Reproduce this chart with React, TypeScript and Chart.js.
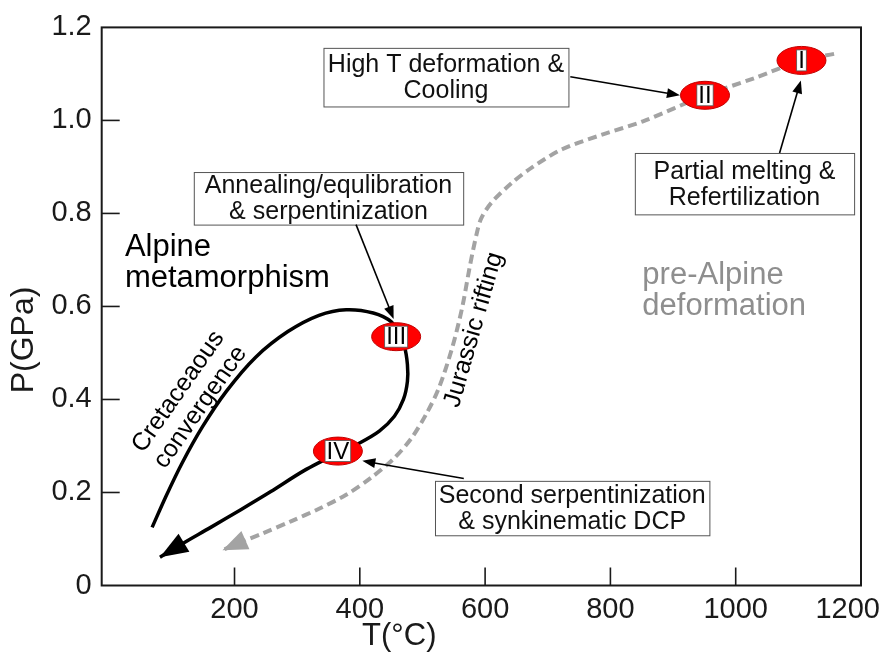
import React, { useEffect, useRef } from 'react';
import { Chart, registerables } from 'chart.js';

Chart.register(...registerables);

const FONT = '"Liberation Sans", Arial, Helvetica, sans-serif';

// Axis ticks
const T_TICKS = [200, 400, 600, 800, 1000, 1200];
const P_TICKS = [0, 0.2, 0.4, 0.6, 0.8, 1.0, 1.2];

// Alpine P–T loop (T in °C, P in GPa): Cretaceous convergence, III, IV, exhumation
const alpineT = [68.5, 91, 116.6, 148.7, 187.2, 233.8, 285.1, 334.9, 378.2, 421.5, 450.4, 461.6, 471.2, 476, 476, 469.6, 455.2, 431.1, 399, 365.3, 311, 258, 210, 162, 118, 81];
const alpineP = [0.125, 0.193, 0.264, 0.341, 0.418, 0.491, 0.546, 0.581, 0.593, 0.586, 0.567, 0.542, 0.514, 0.475, 0.439, 0.4, 0.364, 0.332, 0.306, 0.285, 0.247, 0.202, 0.163, 0.125, 0.091, 0.061];

// pre-Alpine / Jurassic rifting path
const riftT = [1157, 1105, 1028, 951, 852, 788, 723, 675, 643, 610, 594, 587, 576, 563, 547, 526, 506.6, 482.5, 453.6, 418.3, 378.2, 334.9, 290, 245, 209.7, 180.8];
const riftP = [1.143, 1.129, 1.09, 1.054, 0.998, 0.97, 0.938, 0.899, 0.866, 0.823, 0.79, 0.759, 0.689, 0.595, 0.509, 0.424, 0.37, 0.317, 0.272, 0.232, 0.195, 0.165, 0.138, 0.112, 0.093, 0.076];

// Deformation stages
const stageLabels = ['I', 'II', 'III', 'IV'];
const stageT = [1105, 951, 458, 365];
const stageP = [1.129, 1.054, 0.535, 0.289];

// Annotation boxes (text, extent in T/P) and their pointers
const noteText = [
  ['High T deformation &', 'Cooling'],
  ['Partial melting &', 'Refertilization'],
  ['Annealing/equlibration', '& serpentinization'],
  ['Second serpentinization', '& synkinematic DCP'],
];
const noteT0 = [342, 839, 135, 520];
const noteT1 = [733, 1189, 565, 958];
const noteP0 = [1.156, 0.93, 0.889, 0.225];
const noteP1 = [1.03, 0.798, 0.776, 0.108];
const arrowFromT = [736, 1070, 394, 566];
const arrowFromP = [1.094, 0.93, 0.776, 0.23];
const arrowToT = [911, 1104, 454, 404];
const arrowToP = [1.054, 1.086, 0.573, 0.268];

function arrowHead(ctx: CanvasRenderingContext2D, tx: number, ty: number, fx: number, fy: number, len: number, halfW: number, color: string) {
  const dx = tx - fx;
  const dy = ty - fy;
  const d = Math.hypot(dx, dy) || 1;
  const ux = dx / d;
  const uy = dy / d;
  const bx = tx - ux * len;
  const by = ty - uy * len;
  ctx.beginPath();
  ctx.moveTo(tx, ty);
  ctx.lineTo(bx - uy * halfW, by + ux * halfW);
  ctx.lineTo(bx + uy * halfW, by - ux * halfW);
  ctx.closePath();
  ctx.fillStyle = color;
  ctx.fill();
}

const overlay = {
  id: 'overlay',
  afterDatasetsDraw(chart: any) {
    const { ctx, scales } = chart;
    const X = (t: number) => scales.x.getPixelForValue(t);
    const Y = (p: number) => scales.y.getPixelForValue(p);
    ctx.save();

    // path arrowheads
    const na = alpineT.length;
    arrowHead(ctx, X(alpineT[na - 1]), Y(alpineP[na - 1]), X(alpineT[na - 2]), Y(alpineP[na - 2]), 28, 10.5, '#000');
    const nr = riftT.length;
    arrowHead(ctx, X(riftT[nr - 1]), Y(riftP[nr - 1]), X(riftT[nr - 2]), Y(riftP[nr - 2]), 25, 10, '#a3a3a3');

    // stage markers
    for (let i = 0; i < stageLabels.length; i++) {
      const cx = X(stageT[i]);
      const cy = Y(stageP[i]);
      ctx.beginPath();
      ctx.ellipse(cx, cy, 24.5, 14, 0, 0, Math.PI * 2);
      ctx.fillStyle = '#ff0000';
      ctx.fill();
      ctx.lineWidth = 1;
      ctx.strokeStyle = '#c00000';
      ctx.stroke();
      ctx.font = `24px ${FONT}`;
      const tw = ctx.measureText(stageLabels[i]).width;
      const w = tw + 3;
      const h = 21;
      ctx.fillStyle = '#fff';
      ctx.fillRect(cx - w / 2, cy - h / 2, w, h);
      ctx.lineWidth = 0.8;
      ctx.strokeStyle = '#555';
      ctx.strokeRect(cx - w / 2, cy - h / 2, w, h);
      ctx.fillStyle = '#000';
      ctx.textAlign = 'center';
      ctx.textBaseline = 'middle';
      ctx.fillText(stageLabels[i], cx, cy + 1);
    }

    // annotation boxes
    for (let i = 0; i < noteText.length; i++) {
      const x0 = X(noteT0[i]);
      const x1 = X(noteT1[i]);
      const y0 = Y(noteP0[i]);
      const y1 = Y(noteP1[i]);
      ctx.fillStyle = '#fff';
      ctx.fillRect(x0, y0, x1 - x0, y1 - y0);
      ctx.lineWidth = 1;
      ctx.strokeStyle = '#555';
      ctx.strokeRect(x0 + 0.5, y0 + 0.5, x1 - x0, y1 - y0);
      ctx.fillStyle = '#111';
      ctx.font = `25px ${FONT}`;
      ctx.textAlign = 'center';
      ctx.textBaseline = 'middle';
      const cx = (x0 + x1) / 2;
      const cy = (y0 + y1) / 2;
      const lh = 26;
      noteText[i].forEach((line, k) => {
        ctx.fillText(line, cx, cy + (k - (noteText[i].length - 1) / 2) * lh + 1);
      });
      // pointer
      const fx = X(arrowFromT[i]);
      const fy = Y(arrowFromP[i]);
      const tx = X(arrowToT[i]);
      const ty = Y(arrowToP[i]);
      const d = Math.hypot(tx - fx, ty - fy);
      const ex = tx - ((tx - fx) / d) * 8;
      const ey = ty - ((ty - fy) / d) * 8;
      ctx.beginPath();
      ctx.moveTo(fx, fy);
      ctx.lineTo(ex, ey);
      ctx.lineWidth = 1.6;
      ctx.strokeStyle = '#000';
      ctx.stroke();
      arrowHead(ctx, tx, ty, fx, fy, 13, 5, '#000');
    }

    // free labels
    ctx.textAlign = 'left';
    ctx.textBaseline = 'alphabetic';
    ctx.font = `31px ${FONT}`;
    ctx.fillStyle = '#000';
    ctx.fillText('Alpine', X(25), Y(0.708));
    ctx.fillText('metamorphism', X(25), Y(0.708) + 31);
    ctx.fillStyle = '#8e8e8e';
    ctx.fillText('pre-Alpine', X(851), Y(0.649));
    ctx.fillText('deformation', X(851), Y(0.649) + 31);

    // rotated labels
    ctx.fillStyle = '#000';
    ctx.font = `25px ${FONT}`;
    ctx.textAlign = 'center';
    ctx.textBaseline = 'middle';
    ctx.save();
    ctx.translate(X(128), Y(0.4));
    ctx.rotate((-55 * Math.PI) / 180);
    ctx.fillText('Cretaceaous', 0, -13.5);
    ctx.fillText('convergence', 0, 13.5);
    ctx.restore();
    ctx.save();
    ctx.translate(X(582), Y(0.55));
    ctx.rotate((-74 * Math.PI) / 180);
    ctx.fillText('Jurassic rifting', 0, 0);
    ctx.restore();

    ctx.restore();
  },
  afterDraw(chart: any) {
    const { ctx, chartArea: a, scales, width } = chart;
    ctx.save();
    ctx.strokeStyle = '#1a1a1a';
    ctx.lineWidth = 2;
    ctx.strokeRect(a.left, a.top, a.right - a.left, a.bottom - a.top);
    ctx.lineWidth = 1.6;
    // inward tick marks
    for (const t of scales.x.ticks) {
      if (t.value <= scales.x.min || t.value >= scales.x.max) continue;
      const px = scales.x.getPixelForValue(t.value);
      ctx.beginPath();
      ctx.moveTo(px, a.bottom);
      ctx.lineTo(px, a.bottom - 18);
      ctx.stroke();
    }
    for (const t of scales.y.ticks) {
      if (t.value <= scales.y.min || t.value >= scales.y.max) continue;
      const py = scales.y.getPixelForValue(t.value);
      ctx.beginPath();
      ctx.moveTo(a.left, py);
      ctx.lineTo(a.left + 18, py);
      ctx.stroke();
    }
    // T tick labels
    ctx.font = `29px ${FONT}`;
    ctx.fillStyle = '#1a1a1a';
    ctx.textAlign = 'center';
    ctx.textBaseline = 'middle';
    for (const t of scales.x.ticks) {
      const label = String(t.value);
      const w = ctx.measureText(label).width;
      let px = scales.x.getPixelForValue(t.value);
      px = Math.min(px, width - 3 - w / 2);
      ctx.fillText(label, px, a.bottom + 24);
    }
    // axis titles
    ctx.font = `31px ${FONT}`;
    ctx.fillText('T(°C)', scales.x.getPixelForValue(463), a.bottom + 51);
    ctx.save();
    ctx.font = `32px ${FONT}`;
    ctx.translate(24, 340);
    ctx.rotate(-Math.PI / 2);
    ctx.fillText('P(GPa)', 0, 0);
    ctx.restore();
    ctx.restore();
  },
};

export default function App() {
  const ref = useRef<HTMLCanvasElement | null>(null);

  useEffect(() => {
    if (!ref.current) return;
    const chart = new Chart(ref.current, {
      type: 'scatter',
      data: {
        datasets: [
          {
            label: 'Alpine metamorphism',
            data: alpineT.map((t, i) => ({ x: t, y: alpineP[i] })),
            showLine: true,
            borderColor: '#000',
            borderWidth: 3.5,
            tension: 0.3,
            pointRadius: 0,
          },
          {
            label: 'pre-Alpine deformation',
            data: riftT.map((t, i) => ({ x: t, y: riftP[i] })),
            showLine: true,
            borderColor: '#a3a3a3',
            borderWidth: 4,
            borderDash: [9, 5],
            tension: 0.3,
            pointRadius: 0,
          },
        ],
      },
      options: {
        animation: false,
        responsive: false,
        events: [],
        layout: { padding: { top: 23, right: 22, left: 0, bottom: 0 } },
        plugins: { legend: { display: false }, tooltip: { enabled: false } },
        scales: {
          x: {
            type: 'linear',
            min: -12,
            max: 1200,
            afterBuildTicks: (s: any) => {
              s.ticks = T_TICKS.map((v) => ({ value: v }));
            },
            afterFit: (s: any) => {
              s.height = 66.5;
              s.paddingLeft = 0;
              s.paddingRight = 0;
            },
            ticks: { display: false },
            grid: { display: false, drawTicks: false },
            border: { display: false },
          },
          y: {
            type: 'linear',
            min: 0,
            max: 1.2,
            afterBuildTicks: (s: any) => {
              s.ticks = P_TICKS.map((v) => ({ value: v }));
            },
            afterFit: (s: any) => {
              s.width = 101.7;
            },
            ticks: {
              padding: 10,
              color: '#1a1a1a',
              font: { size: 29, family: FONT },
              callback: (v: any) => (Number(v) === 0 ? '0' : Number(v).toFixed(1)),
            },
            grid: { display: false, drawTicks: false },
            border: { display: false },
          },
        },
      },
      plugins: [overlay],
    });
    return () => chart.destroy();
  }, []);

  return (
    <div style={{ position: 'fixed', left: 0, top: 0, width: 883, height: 652, background: '#fff' }}>
      <canvas ref={ref} width={883} height={652} />
    </div>
  );
}
